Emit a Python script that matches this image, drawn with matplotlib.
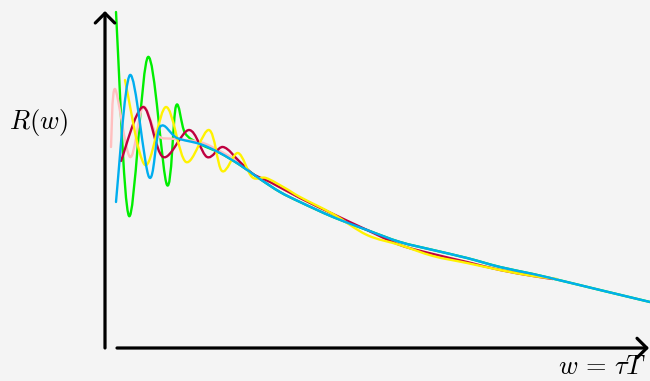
import numpy as np
import matplotlib
matplotlib.use('Agg')
from matplotlib import pyplot as plt
from matplotlib.path import Path
from matplotlib.patches import PathPatch

plt.rcParams['mathtext.fontset'] = 'cm'

# 各条曲线的采样点 (w, R)
w_green = [0.11, 0.24, 0.43, 0.62, 0.71, 0.80, 0.95, 1.15, 1.35, 1.55, 1.75, 1.95,
           2.28, 2.62, 2.95, 3.28, 3.62, 3.95, 4.28, 4.62, 4.95, 5.45]
R_green = [3.35, 1.31, 2.90, 1.62, 2.41, 2.14, 2.03, 1.94, 1.82, 1.68, 1.55, 1.45,
           1.30, 1.17, 1.05, 0.97, 0.89, 0.80, 0.73, 0.65, 0.57, 0.45]

w_pink = [0.06, 0.10, 0.25, 0.38, 0.52, 0.70, 0.95, 1.15, 1.33]
R_pink = [2.00, 2.58, 1.90, 2.40, 2.12, 2.08, 2.05, 1.96, 1.86]

w_red = [0.16, 0.38, 0.58, 0.84, 1.02, 1.18, 1.35, 1.48, 1.65, 1.95, 2.28, 2.62,
         2.95, 3.28, 3.62, 3.95, 4.28, 4.48]
R_red = [1.86, 2.40, 1.90, 2.17, 1.90, 2.00, 1.85, 1.73, 1.65, 1.49, 1.33, 1.17,
         1.02, 0.93, 0.85, 0.77, 0.71, 0.68]

w_yellow = [0.20, 0.40, 0.61, 0.81, 1.04, 1.17, 1.33, 1.47, 1.61, 1.80, 1.95, 2.28,
            2.62, 2.95, 3.28, 3.62, 3.95, 4.28, 4.52]
R_yellow = [2.67, 1.82, 2.40, 1.85, 2.17, 1.76, 1.94, 1.70, 1.69, 1.59, 1.50, 1.33,
            1.12, 1.02, 0.91, 0.84, 0.77, 0.71, 0.68]

w_blue = [0.11, 0.25, 0.44, 0.55, 0.72, 0.95, 1.15, 1.35, 1.55, 1.75, 1.95, 2.28,
          2.62, 2.95, 3.28, 3.62, 3.95, 4.28, 4.62, 4.95, 5.45]
R_blue = [1.45, 2.72, 1.70, 2.20, 2.09, 2.03, 1.94, 1.82, 1.68, 1.55, 1.45, 1.30,
          1.17, 1.05, 0.97, 0.89, 0.80, 0.73, 0.65, 0.57, 0.45]


def smooth_path(xs, ys):
    # Catmull-Rom 样条转成三次贝塞尔路径
    p = np.column_stack([xs, ys]).astype(float)
    p = np.vstack([p[0], p, p[-1]])
    verts = [p[1]]
    codes = [Path.MOVETO]
    for i in range(1, len(p) - 2):
        c1 = p[i] + (p[i + 1] - p[i - 1]) / 6
        c2 = p[i + 1] - (p[i + 2] - p[i]) / 6
        verts += [c1, c2, p[i + 1]]
        codes += [Path.CURVE4] * 3
    return Path(verts, codes)


bg = '#f4f4f4'
fig = plt.figure(figsize=(6.5, 3.81), dpi=100, facecolor=bg)
ax = fig.add_axes([0, 0, 1, 1])
ax.set_facecolor(bg)
ax.set_xlim(-1.05, 5.45)
ax.set_ylim(-0.34, 3.47)
ax.axis('off')

curves = [
    (w_green, R_green, '#00ee00'),
    (w_pink, R_pink, '#ffbfbf'),
    (w_red, R_red, '#bf0040'),
    (w_yellow, R_yellow, '#fff200'),
    (w_blue, R_blue, '#00aeef'),
]
for xs, ys, c in curves:
    ax.add_patch(PathPatch(smooth_path(xs, ys), fill=False, edgecolor=c,
                           lw=1.7, capstyle='round', joinstyle='round'))

# 坐标轴箭头
arrow = dict(arrowstyle='->,head_length=0.35,head_width=0.35', lw=2.3,
             color='black', mutation_scale=20, shrinkA=0, shrinkB=0)
ax.annotate('', xy=(0, 3.36), xytext=(0, -0.01), arrowprops=arrow)
ax.annotate('', xy=(5.44, -0.01), xytext=(0.12, -0.01), arrowprops=arrow)

ax.text(-0.67, 2.25, r'$R(w)$', fontsize=19, ha='center', va='center')
ax.text(5.42, -0.333, r'$w\,=\,\tau T$', fontsize=19, ha='right', va='bottom')

fig.savefig('out.png', dpi=100, facecolor=bg)
